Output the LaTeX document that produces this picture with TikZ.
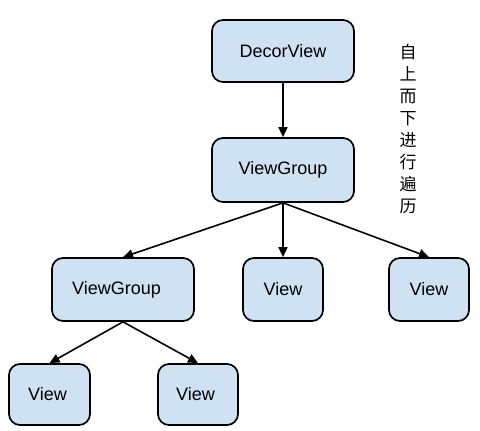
\documentclass[tikz,border=0pt]{standalone}
\usepackage{fontspec}
\setmainfont{Liberation Sans}
\newfontfamily\cjk{Noto Sans CJK SC}
\usetikzlibrary{arrows.meta}
\begin{document}
\begin{tikzpicture}[x=1pt,y=-1pt,
  box/.style={draw=black, line width=1.7pt, fill=boxblue, rounded corners=11pt, font=\fontsize{18}{21}\selectfont, inner sep=0pt},
  conn/.style={line width=1.6pt, -{Triangle[length=10pt,width=9pt]}}]
\definecolor{boxblue}{HTML}{CFE2F3}
\useasboundingbox (0,0) rectangle (480,431);
\node[box, minimum width=142pt, minimum height=62pt] (decor) at (283,51) {DecorView};
\node[box, minimum width=142pt, minimum height=64pt] (vg1) at (283,170) {ViewGroup};
\node[box, minimum width=142pt, minimum height=63pt] (vg2) at (123,289.5) {ViewGroup\hspace*{13pt}};
\node[box, minimum width=80pt, minimum height=63pt] (v1) at (283,289.5) {View};
\node[box, minimum width=80pt, minimum height=63pt] (v2) at (429,289.5) {View};
\node[box, minimum width=81pt, minimum height=61pt] (v3) at (49.5,394.5) {View\hspace*{4pt}};
\node[box, minimum width=80pt, minimum height=61pt] (v4) at (198,394.5) {View\hspace*{5pt}};
\node[font=\cjk\fontsize{17}{22}\selectfont, align=center, inner sep=0pt, anchor=north] (txt) at (408,44) {自\\上\\而\\下\\进\\行\\遍\\历};
\draw[conn] (decor.south) -- (vg1.north);
\draw[conn] (vg1.south) -- (vg2.north);
\draw[conn] (vg1.south) -- (v1.north);
\draw[conn] (vg1.south) -- (v2.north);
\draw[conn] (vg2.south) -- (v3.north);
\draw[conn] (vg2.south) -- (v4.north);
\end{tikzpicture}
\end{document}
